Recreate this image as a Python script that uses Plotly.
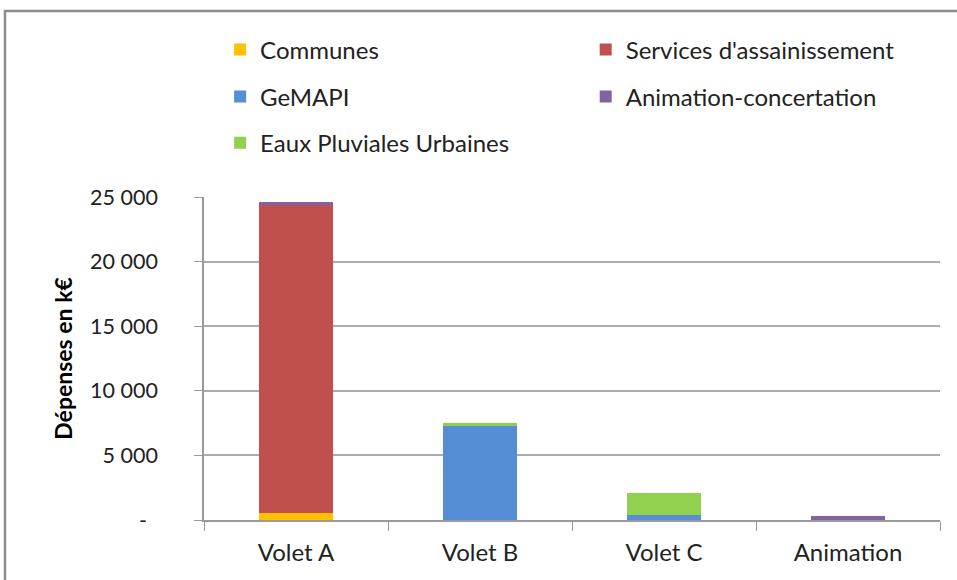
import plotly.graph_objects as go

# données (k€)
categories = ['Volet A', 'Volet B', 'Volet C', 'Animation']
communes = [550, 0, 0, 0]
services = [23830, 0, 0, 0]
gemapi = [0, 7280, 410, 0]
animation = [230, 0, 0, 330]
eaux_pluviales = [0, 250, 1700, 0]

tick_vals = [0, 5000, 10000, 15000, 20000, 25000]
tick_text = ['-\u00a0\u00a0', '5 000', '10 000', '15 000', '20 000', '25 000']

font_family = 'Lato, Noto Sans, sans-serif'

# une légende par entrée, placée dans la grille 2 colonnes de l'original
series = [
    ('Communes', communes, '#FFC000', 'legend', 0.230, 0.914),
    ("Services d'assainissement", services, '#C0504D', 'legend2', 0.612, 0.914),
    ('GeMAPI', gemapi, '#558ED5', 'legend3', 0.230, 0.833),
    ('Animation-concertation', animation, '#8064A2', 'legend4', 0.612, 0.833),
    ('Eaux Pluviales Urbaines', eaux_pluviales, '#92D050', 'legend5', 0.230, 0.753),
]

fig = go.Figure()
# ordre d'empilement : communes, services, gemapi, eaux pluviales, animation
stack_order = [0, 1, 2, 4, 3]
for i in stack_order:
    name, vals, color, leg, lx, ly = series[i]
    fig.add_trace(go.Bar(x=categories, y=vals, name=name, showlegend=True,
                         marker=dict(color=color, line=dict(width=0)),
                         legend=leg))

legends = {}
for name, vals, color, leg, lx, ly in series:
    legends[leg] = dict(orientation='h', xref='container', yref='container',
                        x=lx, y=ly, xanchor='left', yanchor='middle',
                        font=dict(family=font_family, size=24, color='#222'),
                        bgcolor='rgba(0,0,0,0)', itemclick=False)

fig.update_layout(
    barmode='stack',
    bargap=0.6,
    showlegend=True,
    width=957, height=580,
    margin=dict(l=204, r=17, t=197, b=60, autoexpand=False),
    paper_bgcolor='white',
    plot_bgcolor='white',
    font=dict(family=font_family, size=22, color='#222'),
    **legends,
    yaxis=dict(range=[0, 25000], tickvals=tick_vals, ticktext=tick_text,
               showgrid=True, gridcolor='#ADADAD', gridwidth=1.5,
               showline=True, linecolor='#9A9A9A', linewidth=1.5,
               ticks='outside', ticklen=8, tickcolor='#9A9A9A',
               ticklabelstandoff=32, zeroline=False, automargin=False,
               tickfont=dict(size=21.5, color='#222'),
               title=dict(text='<b>Dépenses en k€</b>', standoff=11,
                          font=dict(size=23, color='#000'))),
    xaxis=dict(showline=True, linecolor='#9A9A9A', linewidth=1.5,
               ticks='outside', ticklen=9, tickcolor='#9A9A9A',
               tickson='boundaries', ticklabelstandoff=10, automargin=False,
               tickfont=dict(size=24, color='#222')),
    shapes=[dict(type='rect', xref='paper', yref='paper',
                 x0=-0.2704, y0=-0.4, x1=1.2, y1=1.576,
                 line=dict(color='#8C8C8C', width=2.5), layer='below')],
)

# pas de marge autour du graphique dans la page
fig.write_html('out.html', config={'displayModeBar': False},
               post_script="document.body.style.margin='0';")
